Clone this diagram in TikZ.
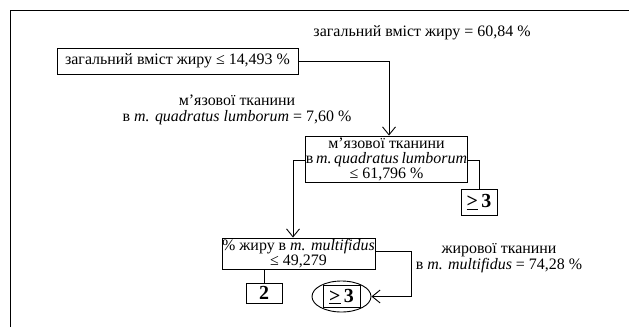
\documentclass[tikz,border=0pt]{standalone}
\usepackage{fontspec}
\setmainfont{Liberation Serif}
\usetikzlibrary{arrows.meta,shapes.geometric}
\tikzset{
  txt/.style={font=\fontsize{16}{16}\selectfont, inner sep=0pt, align=center},
  splitbox/.style={draw, line width=0.9bp, font=\fontsize{16}{15.5}\selectfont, inner sep=0pt, align=center},
  leafbox/.style={draw, line width=0.9bp, font=\fontsize{20}{20}\selectfont\bfseries, inner sep=0pt},
  link/.style={line width=0.9bp},
  arrowlink/.style={link, -{Straight Barb[length=8bp, width=13bp]}},
}
\newcommand{\geqbar}{\underline{>}}
\begin{document}
\begin{tikzpicture}[x=1bp, y=-1bp]
  \useasboundingbox (0,0) rectangle (629,327);
  % frame
  \draw[line width=1bp] (10,327) -- (10,10) -- (629,10);

  % edge labels
  \node[txt] (lblA) at (422,33) {загальний вміст жиру = 60,84 \%};
  \node[txt] (lblB) at (237,110) {м’язової тканини\\в \textit{m. quadratus lumborum} = 7,60 \%};
  \node[txt] (lblC) at (499,258) {жирової тканини\\в \textit{m. multifidus} = 74,28 \%};

  % split nodes
  \node[splitbox, minimum width=241bp, minimum height=26bp] (root) at (177.5,61) {загальний вміст жиру ≤ 14,493 \%};
  \node[splitbox, minimum width=157bp, minimum height=46bp] (mid) at (386.5,159) {м’язової тканини\\[-0.5bp]в\,\textit{m.\,quadratus\,lumborum}\\[-0.5bp]≤ 61,796 \%};
  \node[splitbox, minimum width=153bp, minimum height=31bp] (low) at (298.5,253.5) {\% жиру в \textit{m. multifidus}\\[-1bp]≤ 49,279};

  % leaves
  \node[leafbox, minimum width=36bp, minimum height=26bp] (leafA) at (479,202) {\geqbar\,3};
  \node[leafbox, minimum width=36bp, minimum height=20bp] (leafB) at (264,293) {2};
  \node[draw, ellipse, line width=0.9bp, minimum width=59bp, minimum height=31bp, inner sep=0pt] (leafC) at (341.5,296.5) {};
  \node[leafbox, minimum width=37bp, minimum height=22bp] (leafCbox) at (leafC.center) {\geqbar\,3};

  % connectors
  \draw[arrowlink] (root.east) -| ([xshift=2.5bp]mid.north);
  \draw[arrowlink] ([yshift=-1bp]mid.west) -| ([xshift=-5.5bp]low.north);
  \draw[link] ([yshift=-1bp]mid.east) -| (leafA.north);
  \draw[link] (leafB.north |- low.south) -- (leafB.north);
  \draw[arrowlink] ([yshift=2.5bp]low.east) -- ++(36,0) |- (leafC.east);
\end{tikzpicture}
\end{document}
